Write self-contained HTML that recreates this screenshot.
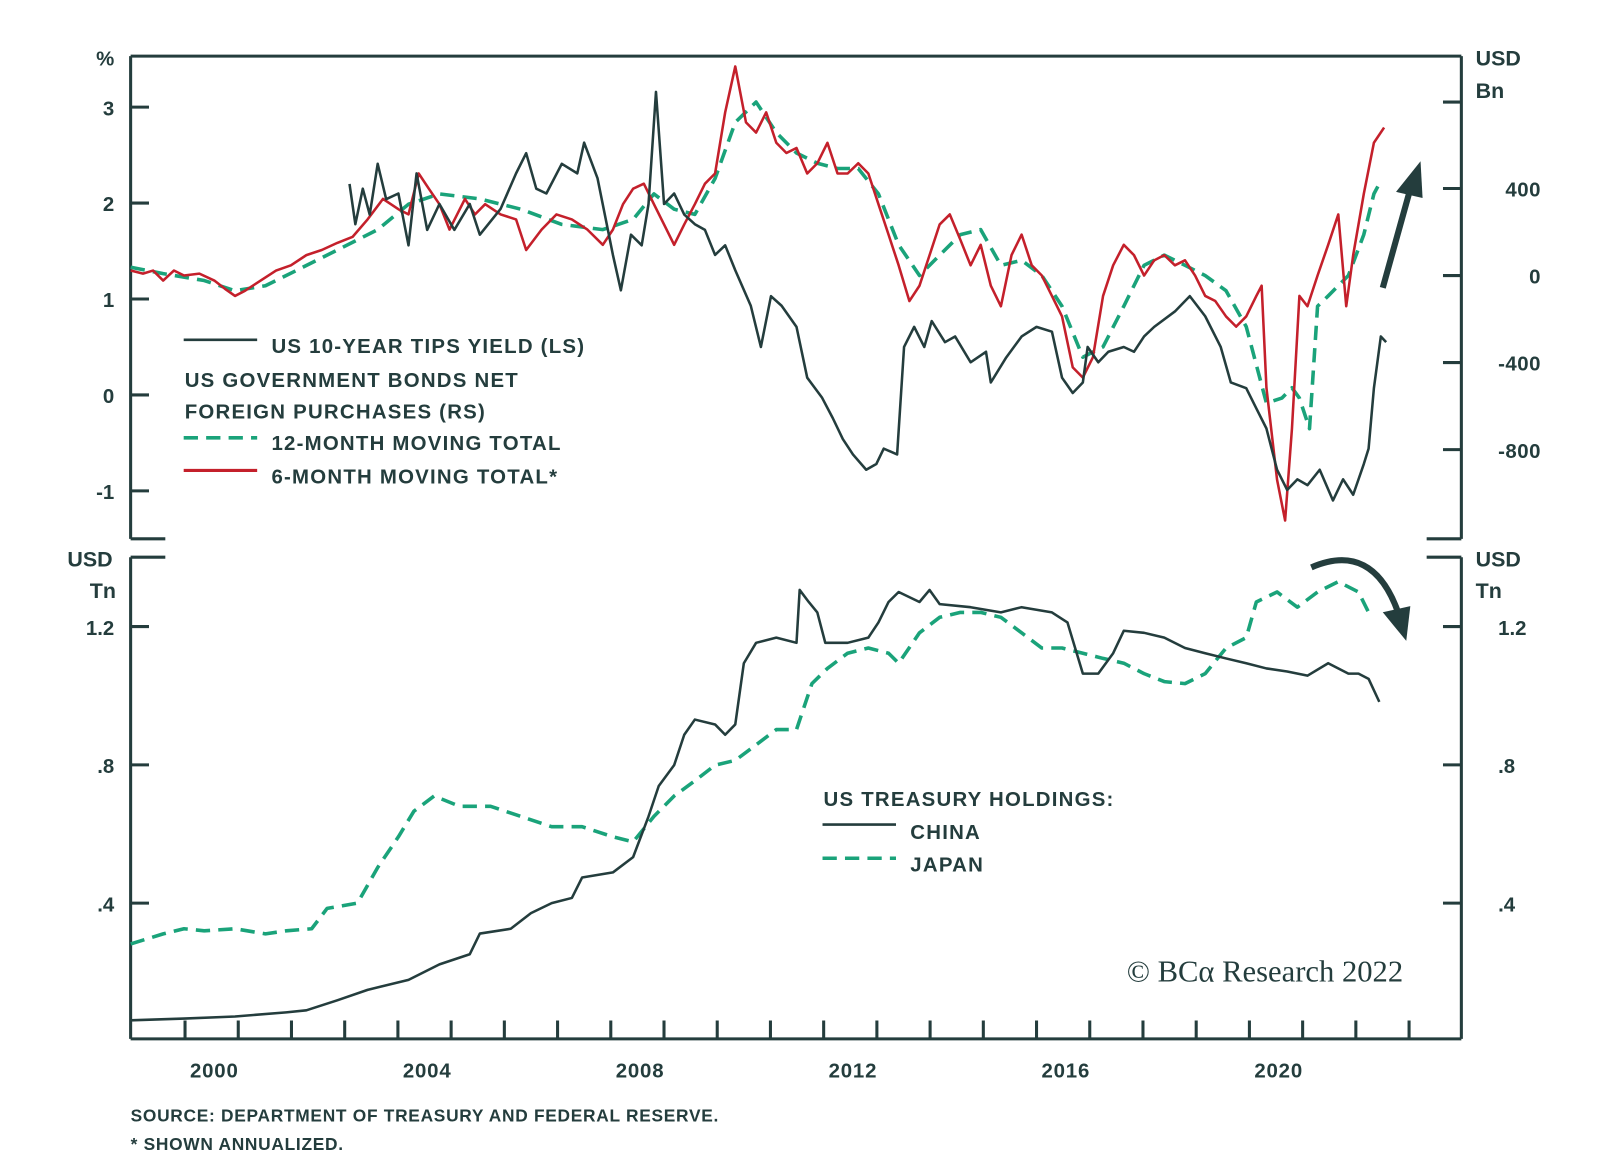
<!DOCTYPE html>
<html><head><meta charset="utf-8"><style>
html,body{margin:0;padding:0;background:#fff;}
svg{display:block;font-family:"Liberation Sans",sans-serif;}
</style></head><body>
<svg id="chart" width="1600" height="1172" viewBox="0 0 1600 1172"><g id="root" transform="scale(1.0205)"></g></svg>
<script>
// ---- data ----
const tipsYears=[2002.54,2002.65,2002.79,2002.92,2003.07,2003.23,2003.46,2003.65,2003.80,2004.00,2004.23,2004.51,2004.80,2004.99,2005.38,2005.67,2005.86,2006.05,2006.24,2006.53,2006.82,2006.95,2007.20,2007.49,2007.64,2007.83,2008.03,2008.16,2008.30,2008.45,2008.64,2008.83,2009.03,2009.22,2009.41,2009.60,2009.79,2010.08,2010.27,2010.46,2010.66,2010.94,2011.14,2011.42,2011.62,2011.81,2012.00,2012.25,2012.44,2012.58,2012.83,2012.96,2013.15,2013.34,2013.48,2013.73,2013.92,2014.21,2014.50,2014.59,2014.88,2015.17,2015.45,2015.74,2015.93,2016.13,2016.32,2016.41,2016.61,2016.80,2017.09,2017.28,2017.47,2017.66,2018.05,2018.33,2018.62,2018.91,2019.10,2019.39,2019.58,2019.77,2019.97,2020.16,2020.35,2020.54,2020.77,2021.02,2021.21,2021.40,2021.60,2021.69,2021.79,2021.92,2022.02];
const tipsValues=[2.20,1.78,2.15,1.88,2.41,2.04,2.10,1.56,2.31,1.72,1.99,1.72,1.99,1.67,1.94,2.31,2.52,2.15,2.10,2.41,2.31,2.63,2.26,1.46,1.09,1.67,1.56,1.99,3.16,1.99,2.10,1.88,1.78,1.72,1.46,1.56,1.30,0.93,0.50,1.03,0.93,0.71,0.18,-0.03,-0.24,-0.46,-0.62,-0.78,-0.72,-0.56,-0.62,0.50,0.71,0.50,0.77,0.55,0.61,0.34,0.45,0.13,0.39,0.61,0.71,0.66,0.18,0.02,0.13,0.50,0.34,0.45,0.50,0.45,0.61,0.71,0.87,1.03,0.82,0.50,0.13,0.07,-0.14,-0.35,-0.78,-0.99,-0.88,-0.94,-0.78,-1.10,-0.88,-1.04,-0.72,-0.56,0.07,0.61,0.55];
const sixYears=[1998.43,1998.66,1998.85,1999.04,1999.24,1999.43,1999.72,2000.00,2000.20,2000.39,2000.58,2000.87,2001.16,2001.44,2001.73,2002.02,2002.31,2002.60,2002.88,2003.17,2003.46,2003.65,2003.84,2004.03,2004.23,2004.42,2004.71,2004.90,2005.09,2005.38,2005.67,2005.86,2006.15,2006.43,2006.72,2007.01,2007.30,2007.49,2007.68,2007.87,2008.07,2008.26,2008.45,2008.64,2008.83,2009.03,2009.22,2009.41,2009.60,2009.79,2009.99,2010.18,2010.37,2010.56,2010.75,2010.94,2011.14,2011.33,2011.52,2011.71,2011.90,2012.10,2012.29,2012.48,2012.67,2012.86,2013.06,2013.25,2013.44,2013.63,2013.82,2014.02,2014.21,2014.40,2014.59,2014.78,2014.98,2015.17,2015.36,2015.55,2015.74,2015.93,2016.13,2016.32,2016.51,2016.70,2016.89,2017.09,2017.28,2017.47,2017.66,2017.85,2018.05,2018.24,2018.43,2018.62,2018.81,2019.01,2019.20,2019.39,2019.58,2019.68,2019.77,2019.97,2020.12,2020.25,2020.39,2020.54,2020.73,2020.93,2021.12,2021.27,2021.40,2021.60,2021.79,2021.98];
const sixValues=[23,9,23,-23,23,0,9,-23,-61,-94,-70,-23,23,47,94,117,150,178,258,352,305,281,469,399,328,211,352,281,328,281,258,117,211,281,258,211,141,211,328,399,422,328,235,141,235,328,422,469,750,961,704,657,750,610,563,586,469,516,610,469,469,516,469,328,188,47,-117,-47,94,235,281,164,47,141,-47,-141,94,188,47,0,-94,-188,-422,-469,-375,-94,47,141,94,0,70,94,47,70,0,-94,-117,-188,-235,-188,-94,-47,-516,-938,-1126,-704,-94,-141,0,141,281,-141,94,375,610,680];
const twelveYears=[1998.43,1999.04,1999.81,2000.39,2000.96,2001.54,2002.31,2003.07,2003.65,2004.23,2004.99,2005.76,2006.53,2007.30,2007.87,2008.26,2008.64,2009.03,2009.41,2009.79,2010.18,2010.56,2010.94,2011.33,2011.71,2012.10,2012.48,2012.86,2013.25,2013.63,2014.02,2014.40,2014.78,2015.17,2015.55,2015.93,2016.32,2016.70,2017.09,2017.47,2017.85,2018.24,2018.62,2019.01,2019.39,2019.77,2020.06,2020.25,2020.39,2020.58,2020.73,2020.93,2021.31,2021.60,2021.79,2021.89];
const twelveValues=[38,9,-23,-70,-47,23,117,211,328,375,352,305,235,211,258,375,305,281,446,704,797,657,563,516,492,492,375,141,0,94,188,211,47,70,0,-141,-375,-328,-141,47,94,47,0,-70,-235,-586,-563,-516,-563,-704,-141,-94,0,188,375,422];
const chinaYears=[1998.43,1999.43,2000.39,2001.35,2001.73,2002.31,2002.88,2003.65,2004.23,2004.80,2004.99,2005.57,2005.95,2006.34,2006.72,2006.91,2007.49,2007.87,2008.16,2008.35,2008.64,2008.83,2009.03,2009.41,2009.60,2009.79,2009.95,2010.18,2010.56,2010.94,2011.00,2011.17,2011.33,2011.48,2011.90,2012.29,2012.48,2012.67,2012.86,2013.25,2013.44,2013.63,2014.21,2014.78,2015.17,2015.74,2016.03,2016.32,2016.61,2016.89,2017.09,2017.47,2017.85,2018.24,2018.62,2019.01,2019.39,2019.77,2020.16,2020.54,2020.93,2021.31,2021.50,2021.69,2021.89];
const chinaValues=[0.061,0.066,0.072,0.084,0.090,0.119,0.149,0.178,0.223,0.252,0.312,0.326,0.371,0.400,0.415,0.474,0.489,0.533,0.651,0.739,0.799,0.887,0.931,0.917,0.887,0.917,1.094,1.153,1.168,1.153,1.306,1.271,1.241,1.153,1.153,1.168,1.212,1.271,1.300,1.271,1.306,1.265,1.256,1.241,1.256,1.241,1.212,1.064,1.064,1.123,1.188,1.182,1.168,1.138,1.123,1.108,1.094,1.079,1.070,1.058,1.094,1.064,1.064,1.049,0.982];
const japanYears=[1998.43,1999.04,1999.43,1999.81,2000.39,2000.96,2001.35,2001.83,2002.12,2002.69,2003.07,2003.46,2003.75,2004.13,2004.61,2005.19,2005.76,2006.34,2006.91,2007.49,2007.87,2008.26,2008.64,2009.03,2009.41,2009.79,2010.18,2010.56,2010.94,2011.23,2011.52,2011.90,2012.29,2012.67,2012.86,2013.25,2013.63,2014.02,2014.40,2014.78,2015.17,2015.55,2015.93,2016.32,2016.70,2017.09,2017.47,2017.85,2018.24,2018.62,2019.01,2019.39,2019.58,2019.97,2020.35,2020.73,2021.12,2021.50,2021.69];
const japanValues=[0.282,0.311,0.326,0.320,0.326,0.311,0.320,0.326,0.385,0.400,0.503,0.592,0.666,0.710,0.680,0.680,0.651,0.621,0.621,0.592,0.577,0.651,0.710,0.754,0.799,0.813,0.858,0.902,0.902,1.035,1.079,1.123,1.138,1.123,1.094,1.182,1.227,1.241,1.241,1.227,1.182,1.138,1.138,1.123,1.108,1.094,1.064,1.041,1.035,1.064,1.138,1.168,1.271,1.300,1.256,1.300,1.330,1.300,1.241];
const leftTicks=[3,2,1,0,-1];
const leftTickLabels=["3","2","1","0","-1"];
const rightTicks=[400,0,-400,-800];
const rightTickLabels=["400","0","-400","-800"];
const bottomTicks=[1.2,0.8,0.4];
const bottomTickLabels=["1.2",".8",".4"];
const yearLabels=[2000,2004,2008,2012,2016,2020];

// ---- scales ----
const X0=128,X1=1432;
const x=y=>210+(y-2000)*52.15;
const yL=v=>387-v*94;
const yR=v=>270-v*85.3/400;
const yB=v=>614-(v-1.2)*338.75;
const root=document.getElementById('root');
const NS='http://www.w3.org/2000/svg';
const DARK='#243d3d',GREEN='#1aa37a',RED='#c4202b';
function mk(tag,attrs,parent){const e=document.createElementNS(NS,tag);for(const k in attrs)e.setAttribute(k,attrs[k]);(parent||root).appendChild(e);return e;}
function txt(s,xx,yy,anchor,size,name,ls){const t=mk('text',{x:xx,y:yy,'text-anchor':anchor||'start','font-size':size||20,fill:DARK,'font-weight':'bold','letter-spacing':ls||0});t.textContent=s;


return t;}
function line(x1,y1,x2,y2,name,w){const l=mk('line',{x1,y1,x2,y2,stroke:DARK,'stroke-width':w||3});


return l;}
function series(xs,vs,sc,color,dash,name){const d=xs.map((yy,i)=>(i?'L':'M')+x(yy).toFixed(1)+','+sc(vs[i]).toFixed(1)).join('');
const p=mk('path',{d,fill:'none',stroke:color,'stroke-width':dash?3.5:2.5,'stroke-dasharray':dash?'14 8':'none','stroke-linejoin':'round'});


return p;}

// frames
line(X0,55,X1,55,'top-panel-top-border');
line(X0,55,X0,528,'top-panel-left-border');
line(X1,55,X1,528,'top-panel-right-border');
line(X0,528,162,528,'top-panel-bottom-left-cap');
line(1398,528,X1,528,'top-panel-bottom-right-cap');
line(X0,546,162,546,'bottom-panel-top-left-cap');
line(1398,546,X1,546,'bottom-panel-top-right-cap');
line(X0,546,X0,1018,'bottom-panel-left-border');
line(X1,546,X1,1018,'bottom-panel-right-border');
line(X0,1018,X1,1018,'bottom-panel-bottom-border');

leftTicks.forEach((v,i)=>{line(X0,yL(v),146,yL(v),'left-tick');txt(leftTickLabels[i],112,yL(v)+8,'end',20,'left-tick-label');});
txt('%',112,64,'end',20,'left-axis-unit');
rightTicks.forEach((v,i)=>{line(1414,yR(v),X1,yR(v),'right-tick');txt(rightTickLabels[i],1510,yR(v)+8,'end',20,'right-tick-label',0.5);});
line(1414,100,X1,100,'right-tick');
txt('USD',1446,64,'start',21,'right-axis-unit');
txt('Bn',1446,96,'start',21,'right-axis-unit');
bottomTicks.forEach((v,i)=>{line(X0,yB(v),146,yB(v),'bottom-left-tick');line(1414,yB(v),X1,yB(v),'bottom-right-tick');
txt(bottomTickLabels[i],112,yB(v)+8,'end',20,'bottom-left-tick-label');txt(bottomTickLabels[i],1468,yB(v)+8,'start',20,'bottom-right-tick-label');});
txt('USD',66,555,'start',21,'bottom-left-unit');txt('Tn',88,586,'start',21,'bottom-left-unit');
txt('USD',1446,555,'start',21,'bottom-right-unit');txt('Tn',1446,586,'start',21,'bottom-right-unit');
for(let yy=1999;yy<=2022;yy++){const xx=x(yy+0.45);if(xx>X0+5&&xx<X1-5)line(xx,1000,xx,1018,'year-tick');}
yearLabels.forEach(yy=>txt(String(yy),x(yy),1056,'middle',20,'year-label',0.8));

// series
series(twelveYears,twelveValues,yR,GREEN,true,'foreign-purchases-12m-line');
series(sixYears,sixValues,yR,RED,false,'foreign-purchases-6m-line');
series(tipsYears,tipsValues,yL,DARK,false,'tips-yield-line');
series(japanYears,japanValues,yB,GREEN,true,'japan-holdings-line');
series(chinaYears,chinaValues,yB,DARK,false,'china-holdings-line');

// legends
const LS=1.2;
line(180,333,252,333,'legend-tips-swatch',2.5);
txt('US 10-YEAR TIPS YIELD (LS)',266,346,'start',20,'legend-tips',LS);
txt('US GOVERNMENT BONDS NET',181,379,'start',20,'legend-bonds-title',LS);
txt('FOREIGN PURCHASES (RS)',181,410,'start',20,'legend-bonds-title',LS);
mk('line',{x1:180,y1:429,x2:252,y2:429,stroke:GREEN,'stroke-width':3.5,'stroke-dasharray':'14 8'});
txt('12-MONTH MOVING TOTAL',266,441,'start',20,'legend-12m',LS);
mk('line',{x1:180,y1:461,x2:252,y2:461,stroke:RED,'stroke-width':3});
txt('6-MONTH MOVING TOTAL*',266,474,'start',20,'legend-6m',LS);
txt('US TREASURY HOLDINGS:',807,790,'start',20,'legend-holdings-title',LS);
line(806,808,878,808,'legend-china-swatch',2.5);
txt('CHINA',892,822,'start',20,'legend-china',LS);
mk('line',{x1:806,y1:841,x2:878,y2:841,stroke:GREEN,'stroke-width':3.5,'stroke-dasharray':'14 8'});
txt('JAPAN',892,854,'start',20,'legend-japan',LS);

// arrows
mk('path',{d:'M1355,282 L1382,185',stroke:DARK,'stroke-width':6,fill:'none'});
mk('path',{d:'M1392,158 L1368,188 L1394,194 Z',fill:DARK});
mk('path',{d:'M1285,556 Q1345,530 1370,600',stroke:DARK,'stroke-width':6,fill:'none'});
mk('path',{d:'M1378,628 L1355,600 L1382,594 Z',fill:DARK});

// credits
const c=txt('© BCα Research 2022',1375,962,'end',30,'copyright');c.setAttribute('font-family','"Liberation Serif",serif');c.setAttribute('font-weight','normal');
txt('SOURCE: DEPARTMENT OF TREASURY AND FEDERAL RESERVE.',128,1099,'start',17,'source-note',0.7);
txt('* SHOWN ANNUALIZED.',128,1127,'start',17,'footnote',0.7);
</script>
</body></html>
